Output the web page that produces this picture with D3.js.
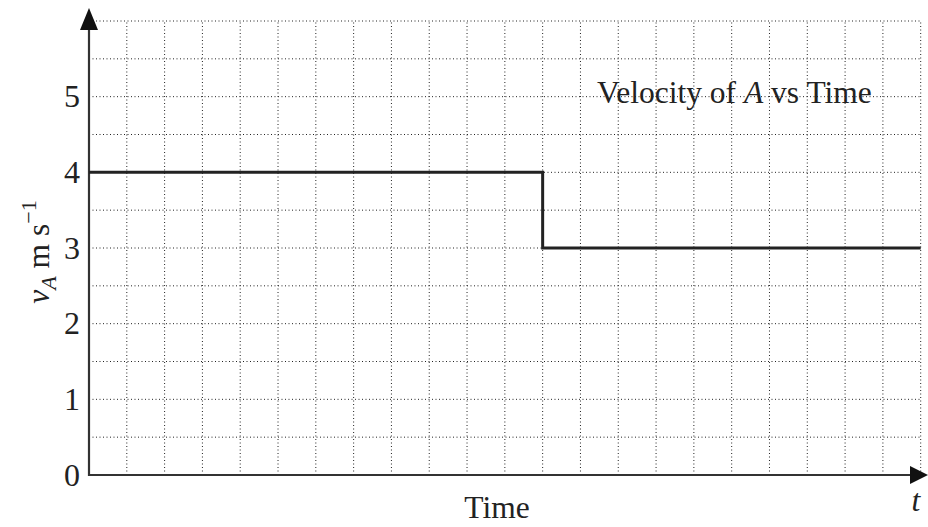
<!DOCTYPE html>
<html lang="en">
<head>
<meta charset="UTF-8">
<title>Velocity of A vs Time</title>
<script src="https://cdn.jsdelivr.net/npm/d3@7"></script>
<style>
    body { margin: 0; background: #fff; }
    svg { display: block; font-family: "Liberation Serif", "Times New Roman", serif; }
    .grid line { stroke: #222; stroke-width: 1; stroke-dasharray: 1,2.5; }
    .ticks text { font-size: 32px; fill: #222; }
</style>
</head>
<body>
<div id="chart"></div>
<script>
    // step data: velocity holds from each time to the next
    const times = [0, 12, 22];
    const velocity = [4, 3, 3];
    const yTickValues = [0, 1, 2, 3, 4, 5];
    const xGridValues = d3.range(1, 23);        // vertical grid every 1 unit
    const yGridValues = d3.range(0.5, 6.01, 0.5); // horizontal grid every 0.5 unit

    const W = 928, H = 527;
    const x = d3.scaleLinear().domain([0, 22]).range([89, 920.7]);
    const y = d3.scaleLinear().domain([0, 6]).range([475, 21]);

    const svg = d3.select("#chart").append("svg")
        .attr("width", W).attr("height", H);

    // grid
    const grid = svg.append("g").attr("class", "grid");
    grid.selectAll("line.v").data(xGridValues).enter().append("line")
        .attr("class", "v")
        .attr("x1", d => x(d)).attr("x2", d => x(d))
        .attr("y1", y(0)).attr("y2", y(6));
    grid.selectAll("line.h").data(yGridValues).enter().append("line")
        .attr("class", "h")
        .attr("x1", x(0)).attr("x2", x(22))
        .attr("y1", d => y(d)).attr("y2", d => y(d));

    // y tick labels
    svg.append("g").attr("class", "ticks")
        .attr("transform", `translate(${x(0)},0)`)
        .call(d3.axisLeft(y).tickValues(yTickValues).tickSize(0).tickPadding(9).tickFormat(d3.format("d")))
        .attr("font-family", null).attr("font-size", null)
        .call(g => g.select(".domain").remove());

    // axes with arrows
    svg.append("line")
        .attr("x1", x(0)).attr("x2", x(0))
        .attr("y1", y(0) + 1).attr("y2", 28)
        .attr("stroke", "#333").attr("stroke-width", 2.2);
    svg.append("line")
        .attr("x1", x(0) - 1).attr("x2", 912)
        .attr("y1", y(0)).attr("y2", y(0))
        .attr("stroke", "#333").attr("stroke-width", 2.2);
    svg.append("path")
        .attr("d", `M${x(0)},8 L${x(0) - 9},30 L${x(0) + 9},30 Z`)
        .attr("fill", "#111");
    svg.append("path")
        .attr("d", `M928,${y(0)} L910,${y(0) - 9} L910,${y(0) + 9} Z`)
        .attr("fill", "#111");

    // step line
    const line = d3.line()
        .x((d, i) => x(times[i]))
        .y(d => y(d))
        .curve(d3.curveStepAfter);
    svg.append("path")
        .datum(velocity)
        .attr("d", line)
        .attr("fill", "none")
        .attr("stroke", "#222")
        .attr("stroke-width", 3);

    // title inside plot
    const title = svg.append("text")
        .attr("x", 597).attr("y", 103)
        .attr("font-size", 31.5).attr("fill", "#222");
    title.append("tspan").text("Velocity of ");
    title.append("tspan").attr("font-style", "italic").text("A");
    title.append("tspan").text(" vs Time");

    // axis labels
    svg.append("text")
        .attr("x", 497).attr("y", 518)
        .attr("text-anchor", "middle")
        .attr("font-size", 31.5).attr("fill", "#222")
        .text("Time");
    svg.append("text")
        .attr("x", 916).attr("y", 511)
        .attr("text-anchor", "middle")
        .attr("font-size", 31.5).attr("font-style", "italic").attr("fill", "#222")
        .text("t");

    const yl = svg.append("text")
        .attr("transform", "translate(49,252) rotate(-90)")
        .attr("text-anchor", "middle")
        .attr("font-size", 31.5).attr("fill", "#222");
    yl.append("tspan").attr("font-style", "italic").text("v");
    yl.append("tspan").attr("font-style", "italic").attr("font-size", 22).attr("dy", 7).text("A");
    yl.append("tspan").attr("dy", -7).text(" m s");
    yl.append("tspan").attr("font-size", 22).attr("dy", -13).text("\u22121");
</script>
</body>
</html>
